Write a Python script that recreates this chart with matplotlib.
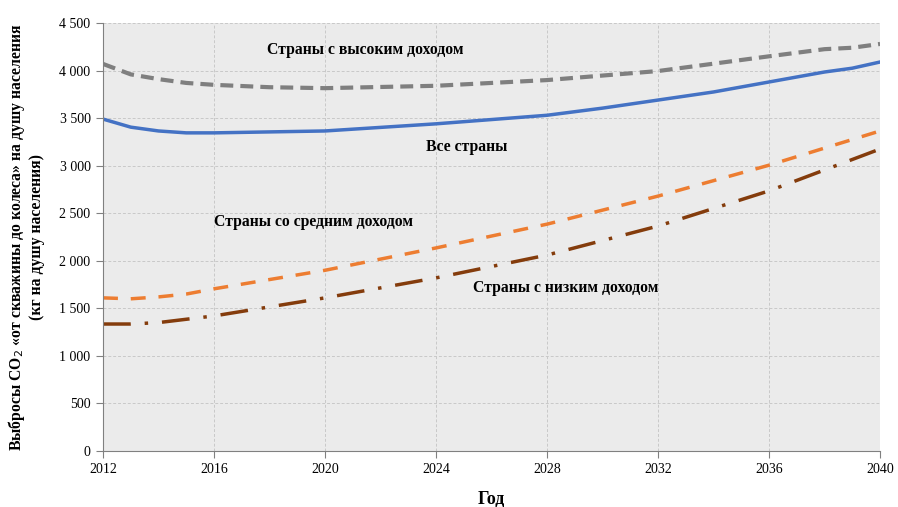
import matplotlib
matplotlib.use('Agg')
import matplotlib.pyplot as plt
from matplotlib.ticker import FuncFormatter
import numpy as np

# values (kg CO2 per capita)
years_high = [2012, 2013, 2014, 2015, 2016, 2018, 2020, 2024, 2028, 2032, 2036, 2038, 2039, 2040]
high_income = [4070, 3960, 3910, 3870, 3850, 3825, 3815, 3840, 3900, 3995, 4150, 4225, 4240, 4280]

years_all = [2012, 2013, 2014, 2015, 2016, 2020, 2024, 2028, 2030, 2032, 2034, 2036, 2038, 2039, 2040]
all_countries = [3490, 3405, 3365, 3345, 3345, 3365, 3440, 3530, 3605, 3690, 3775, 3880, 3985, 4025, 4090]

years_mid = [2012, 2013, 2014, 2015, 2016, 2020, 2024, 2028, 2032, 2036, 2040]
middle_income = [1610, 1600, 1620, 1650, 1705, 1900, 2135, 2385, 2680, 3005, 3365]

years_low = [2012, 2013, 2014, 2016, 2020, 2024, 2028, 2032, 2036, 2040]
low_income = [1335, 1335, 1350, 1420, 1610, 1820, 2060, 2365, 2735, 3175]

x_ticks = [2012, 2016, 2020, 2024, 2028, 2032, 2036, 2040]
y_ticks = [0, 500, 1000, 1500, 2000, 2500, 3000, 3500, 4000, 4500]

plt.rcParams['font.family'] = ['Liberation Serif', 'DejaVu Serif']

fig = plt.figure(figsize=(8.98, 5.07), dpi=100)
ax = fig.add_axes([0.1147, 0.1105, 0.8653, 0.8441])
ax.set_facecolor('#ebebeb')

ax.plot(years_high, high_income, color='#7f7f7f', lw=3, ls=(0, (3.1, 1.7)))
ax.plot(years_all, all_countries, color='#4472c4', lw=2.5)
ax.plot(years_mid, middle_income, color='#ed7d31', lw=2.5, ls=(0, (4.3, 3.7)))
ax.plot(years_low, low_income, color='#843c0c', lw=2.5, ls=(0, (8, 4, 1, 4)))

ax.set_xlim(2012, 2040)
ax.set_ylim(0, 4500)
ax.set_xticks(x_ticks)
ax.set_yticks(y_ticks)
ax.yaxis.set_major_formatter(FuncFormatter(lambda v, p: f'{int(v):,}'.replace(',', ' ')))
ax.tick_params(labelsize=10, length=5, color='#808080', pad=4)
ax.grid(True, color='#c8c8c8', ls=(0, (3, 2)), lw=0.7)
ax.set_axisbelow(True)
for side in ['top', 'right']:
    ax.spines[side].set_visible(False)
for side in ['left', 'bottom']:
    ax.spines[side].set_color('#808080')

ax.set_xlabel('Год', fontsize=13, fontweight='bold', labelpad=10)
ax.set_ylabel('Выбросы CO$_2$ «от скважины до колеса» на душу населения\n(кг на душу населения)',
              fontsize=11.3, fontweight='bold', labelpad=10)

ax.text(2021.44, 4216, 'Страны с высоким доходом', fontsize=11.3, fontweight='bold', ha='center', va='center')
ax.text(2025.12, 3196, 'Все страны', fontsize=11.3, fontweight='bold', ha='center', va='center')
ax.text(2019.57, 2408, 'Страны со средним доходом', fontsize=11.3, fontweight='bold', ha='center', va='center')
ax.text(2028.69, 1714, 'Страны с низким доходом', fontsize=11.3, fontweight='bold', ha='center', va='center')

plt.savefig('out.png', dpi=100)
plt.close('all')
